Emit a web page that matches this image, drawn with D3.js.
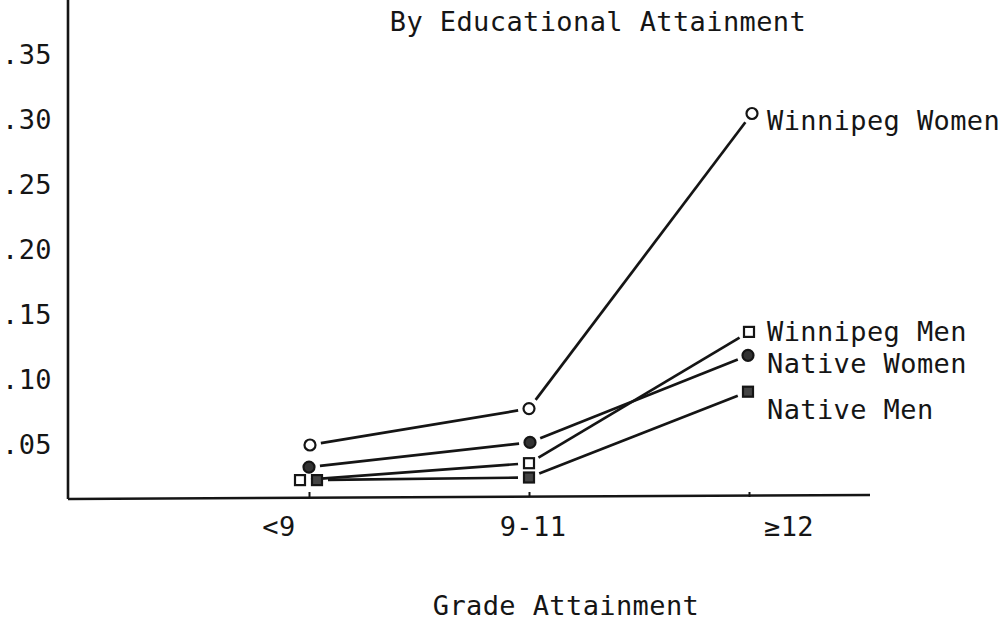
<!DOCTYPE html>
<html>
<head>
<meta charset="utf-8">
<script src="https://cdn.jsdelivr.net/npm/d3@7"></script>
<style>
  body { margin: 0; background: #fff; }
  text { font-family: "DejaVu Sans Mono", "Liberation Mono", monospace; fill: #151515; letter-spacing: 0.4px; }
</style>
</head>
<body>
<svg id="chart" width="1000" height="637"></svg>
<script>
// data
var grades = ["<9", "9-11", "≥12"];
var seriesNames = ["Winnipeg Women", "Winnipeg Men", "Native Women", "Native Men"];
var winnipegWomen = [0.050, 0.078, 0.305];
var winnipegMen = [0.023, 0.036, 0.137];
var nativeWomen = [0.033, 0.052, 0.119];
var nativeMen = [0.023, 0.025, 0.091];
var yTicks = [0.05, 0.10, 0.15, 0.20, 0.25, 0.30, 0.35];

var svg = d3.select("#chart"),
    left = 68, right = 870, top = 6, bottom = 497,
    ink = "#151515", fontSize = "27px";

var x = d3.scalePoint().domain(grades).range([309, 749]);
var y = d3.scaleLinear().domain([0, 0.35]).range([510, 55]);

// marker shape / nudges / label offsets per series
var series = [
  {name: seriesNames[0], values: winnipegWomen, shape: "circle", fill: "#fff", nudge: [1, 0, 3], labelDy: 7},
  {name: seriesNames[1], values: winnipegMen, shape: "square", fill: "#fff", nudge: [-9, 0, 0], labelDy: 0},
  {name: seriesNames[2], values: nativeWomen, shape: "circle", fill: "#333", nudge: [0, 1, -1], labelDy: 8},
  {name: seriesNames[3], values: nativeMen, shape: "square", fill: "#444", nudge: [8, 0, -1], labelDy: 18}
];

// title
svg.append("text").attr("x", 598).attr("y", 22).attr("dy", "0.35em")
  .attr("text-anchor", "middle").style("font-size", fontSize)
  .text("By Educational Attainment");

// y axis labels only
var yAxis = svg.append("g").attr("transform", "translate(" + left + ",0)")
  .call(d3.axisLeft(y).tickValues(yTicks).tickSize(0).tickPadding(16)
    .tickFormat(function (d) { return d3.format(".2f")(d).replace(/^0/, ""); }));
yAxis.select(".domain").remove();
yAxis.selectAll("text").style("font-size", fontSize).style("font-family", "DejaVu Sans Mono");

// x axis ticks
var xAxis = svg.append("g").attr("transform", "translate(0," + bottom + ")")
  .call(d3.axisBottom(x).tickSizeInner(-5).tickSizeOuter(0).tickFormat(""));
xAxis.select(".domain").remove();
xAxis.selectAll("line").style("stroke", ink).style("stroke-width", 2);

var labelShift = [-30, 4, 40];
svg.selectAll(".grade-label").data(grades).enter().append("text")
  .attr("class", "grade-label")
  .attr("x", function (d, i) { return x(d) + labelShift[i]; })
  .attr("y", 527).attr("dy", "0.35em")
  .attr("text-anchor", "middle").style("font-size", fontSize)
  .text(function (d) { return d; });

// frame
svg.append("line").attr("x1", left).attr("x2", left).attr("y1", top).attr("y2", bottom + 2)
  .style("stroke", ink).style("stroke-width", 2.6);
svg.append("line").attr("x1", left).attr("x2", right).attr("y1", bottom + 2).attr("y2", bottom - 2)
  .style("stroke", ink).style("stroke-width", 2.6);

// x title
svg.append("text").attr("x", 566).attr("y", 606).attr("dy", "0.35em")
  .attr("text-anchor", "middle").style("font-size", fontSize)
  .text("Grade Attainment");

// lines, trimmed short of the markers like the original
var gap = 11;
series.forEach(function (s) {
  var pts = s.values.map(function (v, i) {
    return [x(grades[i]) + s.nudge[i], y(v)];
  });
  for (var i = 0; i < pts.length - 1; i++) {
    var a = pts[i], b = pts[i + 1],
        dx = b[0] - a[0], dy = b[1] - a[1],
        len = Math.sqrt(dx * dx + dy * dy),
        ux = dx / len, uy = dy / len;
    svg.append("line")
      .attr("x1", a[0] + ux * gap).attr("y1", a[1] + uy * gap)
      .attr("x2", b[0] - ux * gap).attr("y2", b[1] - uy * gap)
      .style("stroke", ink).style("stroke-width", 2.7);
  }
  var g = svg.append("g");
  pts.forEach(function (p) {
    if (s.shape == "circle") {
      g.append("circle").attr("cx", p[0]).attr("cy", p[1]).attr("r", 5.5)
        .style("fill", s.fill).style("stroke", ink).style("stroke-width", 2.2);
    } else {
      g.append("rect").attr("x", p[0] - 5).attr("y", p[1] - 5).attr("width", 10).attr("height", 10)
        .style("fill", s.fill).style("stroke", ink).style("stroke-width", 2.2);
    }
  });
  var last = pts[pts.length - 1];
  svg.append("text").attr("x", 767).attr("y", last[1] + s.labelDy).attr("dy", "0.35em")
    .style("font-size", fontSize).text(s.name);
});
</script>
</body>
</html>
